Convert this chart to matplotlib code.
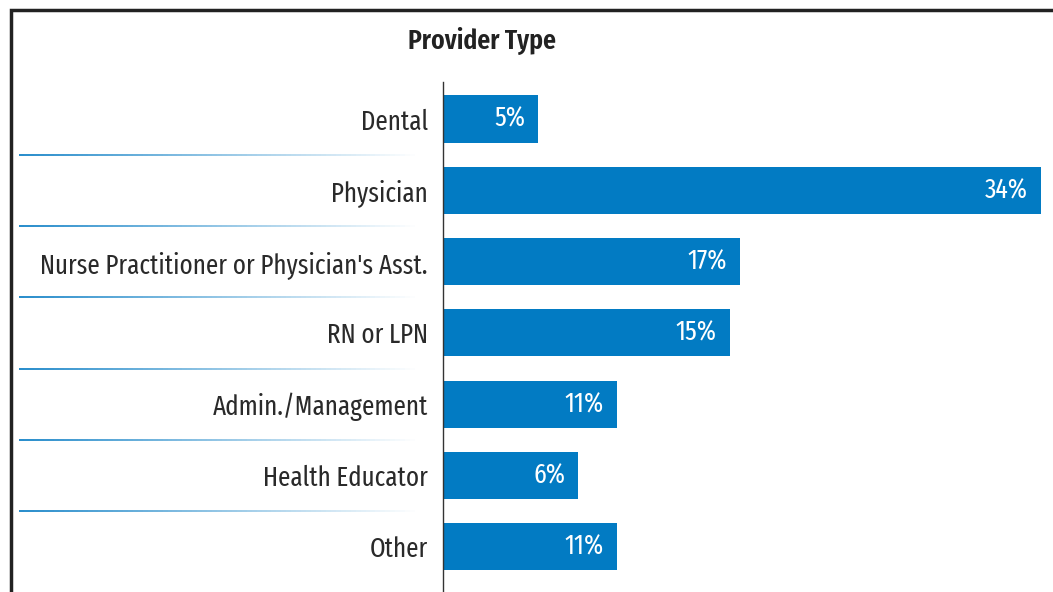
import matplotlib
matplotlib.use("Agg")
import matplotlib.pyplot as plt
import numpy as np
from matplotlib.collections import LineCollection
from matplotlib.patches import Rectangle
from matplotlib import font_manager

categories = ["Dental", "Physician", "Nurse Practitioner or Physician's Asst.",
              "RN or LPN", "Admin./Management", "Health Educator", "Other"]
values = [5.4, 34.0, 16.9, 16.3, 9.9, 7.7, 9.9]
value_labels = ["5%", "34%", "17%", "15%", "11%", "6%", "11%"]
title = "Provider Type"

names = {f.name for f in font_manager.fontManager.ttflist}
fam = "DejaVu Sans"
size = 18
for cand, sz in [("Fira Sans Extra Condensed", 19.5), ("Fira Sans Condensed", 18),
                 ("PT Sans Narrow", 19), ("Asap Condensed", 18), ("Liberation Sans Narrow", 18)]:
    if cand in names:
        fam, size = cand, sz
        break
plt.rcParams['font.family'] = [fam, 'DejaVu Sans']

W, H = 1053, 592
fig = plt.figure(figsize=(W / 100, H / 100), dpi=100)
fig.patch.set_facecolor("white")

bar_color = "#027bc3"
x0px, x34px = 443, 1041
pxper = (x34px - x0px) / 34.0
xmax = (W - x0px) / pxper
row0, step = 119, 71.3
ax_top_px = 82
ytop = -(row0 - ax_top_px) / step
ybot = (H - row0) / step

ax = fig.add_axes([x0px / W, 0, 1 - x0px / W, (H - ax_top_px) / H])
ax.set_xlim(0, xmax)
ax.set_ylim(ybot, ytop)
ypos = np.arange(len(categories))
ax.barh(ypos, values, height=0.66, color=bar_color, zorder=2)
for s in ["top", "right", "bottom"]:
    ax.spines[s].set_visible(False)
ax.spines["left"].set_color("#333333")
ax.spines["left"].set_linewidth(1.0)
ax.set_xticks([])
ax.set_yticks(ypos)
ax.set_yticklabels(categories, fontsize=size, color="#2a2a2a", fontweight="normal")
ax.tick_params(axis="y", length=0, pad=11)
for y, v, lab in zip(ypos, values, value_labels):
    ax.text(v - 13 / pxper, y, lab, ha="right", va="center", color="white",
            fontsize=size + 0.5, fontweight="normal", zorder=3)

def ypix_to_fig(ypix):
    return 1 - ypix / H

# gradient separator lines
n = 80
xs = np.linspace(19, 415, n + 1)
c0 = np.array([0.0, 0.47, 0.76])
for k in range(len(categories) - 1):
    yp = row0 + step * (k + 0.5)
    yf = ypix_to_fig(yp)
    segs, cols = [], []
    for i in range(n):
        t = i / n
        segs.append([(xs[i] / W, yf), (xs[i + 1] / W, yf)])
        cols.append(tuple(c0 * (1 - t) + np.array([1, 1, 1]) * t))
    lc = LineCollection(segs, colors=cols, linewidths=1.2, transform=fig.transFigure)
    fig.add_artist(lc)

# frame
fig.add_artist(Rectangle((11 / W, -0.1), 1.2, 1 - 9.5 / H + 0.1, fill=False,
                         edgecolor="#222222", linewidth=2.5, transform=fig.transFigure))

fig.text(482 / W, ypix_to_fig(41), title, ha="center", va="center",
         fontsize=20, fontweight="semibold", color="#222222")

fig.savefig("out.png", dpi=100, facecolor="white")
